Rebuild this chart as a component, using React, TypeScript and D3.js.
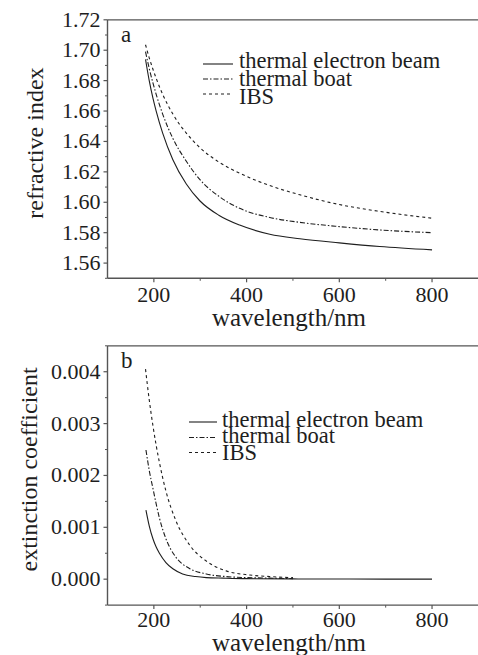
import React from "react";
import * as d3 from "d3";

// ---------- data ----------
const seriesNames = ["thermal electron beam", "thermal boat", "IBS"];
const xTickValues = [200, 400, 600, 800];
const xMinorValues = [300, 500, 700];

// panel a : refractive index
const wlA = [182, 190, 198, 205, 219, 241, 270, 299, 340, 385, 450, 515, 600, 687, 800];
const nBeam = [1.694, 1.68, 1.6685, 1.66, 1.6455, 1.628, 1.612, 1.601, 1.5915, 1.585, 1.579, 1.576, 1.5733, 1.5709, 1.5687];
const nBoat = [1.699, 1.688, 1.6785, 1.671, 1.658, 1.642, 1.627, 1.615, 1.604, 1.596, 1.59, 1.5868, 1.584, 1.5818, 1.58];
const nIBS = [1.7036, 1.695, 1.6875, 1.6815, 1.671, 1.658, 1.6455, 1.636, 1.6265, 1.6191, 1.611, 1.6049, 1.5985, 1.594, 1.5895];
const yTicksA = [1.56, 1.58, 1.6, 1.62, 1.64, 1.66, 1.68, 1.7, 1.72];
const yMinorA = [1.55, 1.57, 1.59, 1.61, 1.63, 1.65, 1.67, 1.69, 1.71];

// panel b : extinction coefficient
const wlBeamB = [183, 190, 198, 205, 212, 226, 241, 262, 290, 313, 350, 400, 500, 600, 700, 800];
const kBeam = [0.00133, 0.00103, 0.00078, 0.00062, 0.0005, 0.00032, 0.0002, 0.0001, 0.00005, 0.00003, 0.00002, 0.00001, 0.000005, 0.000003, 0.000001, 0];
const wlBoatB = [183, 190, 198, 205, 212, 226, 247, 276, 313, 356, 400, 450, 500];
const kBoat = [0.00249, 0.0021, 0.00175, 0.00145, 0.00118, 0.00078, 0.00043, 0.00021, 0.0001, 0.00005, 0.00003, 0.00002, 0.00001];
const wlIBSB = [182, 190, 198, 205, 212, 226, 247, 277, 313, 356, 407, 450, 500];
const kIBS = [0.00405, 0.00346, 0.00296, 0.00258, 0.00225, 0.0017, 0.00114, 0.00066, 0.00035, 0.00016, 0.00008, 0.00005, 0.00003];
const yTicksB = [0, 0.001, 0.002, 0.003, 0.004];
const yMinorB = [-0.0005, 0.0005, 0.0015, 0.0025, 0.0035, 0.0045];

// ---------- styles ----------
const FONT = "Liberation Serif";
const INK = "#1e1e1e";
const AXIS = "#555";
const dashes = [null, "5,2,1.5,2", "3,3"];

type Pt = [number, number];

function zip(xs: number[], ys: number[]): Pt[] {
  return xs.map((x, i) => [x, ys[i]] as Pt);
}

type PanelProps = {
  yDomain: [number, number];
  yRange: [number, number];
  yTicks: number[];
  yMinor: number[];
  fmt: (v: number) => string;
  data: Pt[][];
  letter: string;
  yTitle: string;
  legend: { lineX0: number; lineX1: number; textX: number; lineY: number[]; textY: number[] };
  xLabelY: number;
  xTitleY: number;
  yTitleX: number;
};

const x0 = 107.5;
const x1 = 478.4;

function Panel(p: PanelProps) {
  const x = d3.scaleLinear().domain([100, 900]).range([x0, x1]);
  const y = d3.scaleLinear().domain(p.yDomain).range(p.yRange);
  const line = d3
    .line<Pt>()
    .x((d) => x(d[0]))
    .y((d) => y(d[1]))
    .curve(d3.curveMonotoneX);
  const yBottom = p.yRange[0];
  const yTop = p.yRange[1];
  return (
    <g>
      {p.data.map((s, i) => (
        <path
          key={i}
          d={line(s) || ""}
          fill="none"
          stroke={INK}
          strokeWidth={1.1}
          strokeDasharray={dashes[i] || undefined}
        />
      ))}
      <line x1={x0} x2={x1} y1={yTop} y2={yTop} stroke={AXIS} strokeWidth={1.3} />
      <line x1={x0} x2={x1} y1={yBottom} y2={yBottom} stroke={AXIS} strokeWidth={1.4} />
      <line x1={x0} x2={x0} y1={yTop} y2={yBottom} stroke={AXIS} strokeWidth={1.4} />
      {p.yTicks.map((t) => (
        <g key={"yt" + t}>
          <line x1={x0 - 4} x2={x0} y1={y(t)} y2={y(t)} stroke={AXIS} strokeWidth={1.2} />
          <text x={x0 - 7} y={y(t) + 7} textAnchor="end" fontSize={22}>
            {p.fmt(t)}
          </text>
        </g>
      ))}
      {p.yMinor.map((t) => (
        <line key={"ym" + t} x1={x0 - 2.5} x2={x0} y1={y(t)} y2={y(t)} stroke={AXIS} strokeWidth={1} />
      ))}
      {xTickValues.map((t) => (
        <g key={"xt" + t}>
          <line x1={x(t)} x2={x(t)} y1={yBottom} y2={yBottom + 4} stroke={AXIS} strokeWidth={1.2} />
          <text x={x(t)} y={p.xLabelY} textAnchor="middle" fontSize={22}>
            {t}
          </text>
        </g>
      ))}
      {xMinorValues.map((t) => (
        <line key={"xm" + t} x1={x(t)} x2={x(t)} y1={yBottom} y2={yBottom + 2.5} stroke={AXIS} strokeWidth={1} />
      ))}
      <text x={289} y={p.xTitleY} textAnchor="middle" fontSize={25}>
        wavelength/nm
      </text>
      <text
        transform={`translate(${p.yTitleX},${(yTop + yBottom) / 2 - 6}) rotate(-90)`}
        textAnchor="middle"
        fontSize={24}
      >
        {p.yTitle}
      </text>
      <text x={121} y={yTop + 22} fontSize={23}>
        {p.letter}
      </text>
      {seriesNames.map((name, i) => (
        <g key={name}>
          <line
            x1={p.legend.lineX0}
            x2={p.legend.lineX1}
            y1={p.legend.lineY[i]}
            y2={p.legend.lineY[i]}
            stroke={INK}
            strokeWidth={1.1}
            strokeDasharray={dashes[i] || undefined}
          />
          <text x={p.legend.textX} y={p.legend.textY[i]} fontSize={22.5}>
            {name}
          </text>
        </g>
      ))}
    </g>
  );
}

export default function App() {
  const dataA = [zip(wlA, nBeam), zip(wlA, nBoat), zip(wlA, nIBS)];
  const dataB = [zip(wlBeamB, kBeam), zip(wlBoatB, kBoat), zip(wlIBSB, kIBS)];
  return (
    <svg
      width={478}
      height={655}
      viewBox="0 0 478 655"
      fontFamily={FONT}
      fill={INK}
      style={{ position: "absolute", left: 0, top: 0, background: "#fff" }}
    >
      <rect width={478} height={655} fill="#fff" />
      <Panel
        yDomain={[1.55, 1.72]}
        yRange={[278.3, 19.8]}
        yTicks={yTicksA}
        yMinor={yMinorA}
        fmt={(v) => v.toFixed(2)}
        data={dataA}
        letter="a"
        yTitle="refractive index"
        legend={{ lineX0: 203, lineX1: 233, textX: 239, lineY: [64, 79, 94], textY: [68, 86, 104] }}
        xLabelY={302}
        xTitleY={326}
        yTitleX={43}
      />
      <Panel
        yDomain={[-0.0005, 0.0045]}
        yRange={[605.1, 345.8]}
        yTicks={yTicksB}
        yMinor={yMinorB}
        fmt={(v) => v.toFixed(3)}
        data={dataB}
        letter="b"
        yTitle="extinction coefficient"
        legend={{ lineX0: 189, lineX1: 217, textX: 222, lineY: [422, 437.5, 452.5], textY: [427, 443, 460] }}
        xLabelY={627}
        xTitleY={651}
        yTitleX={37}
      />
    </svg>
  );
}
